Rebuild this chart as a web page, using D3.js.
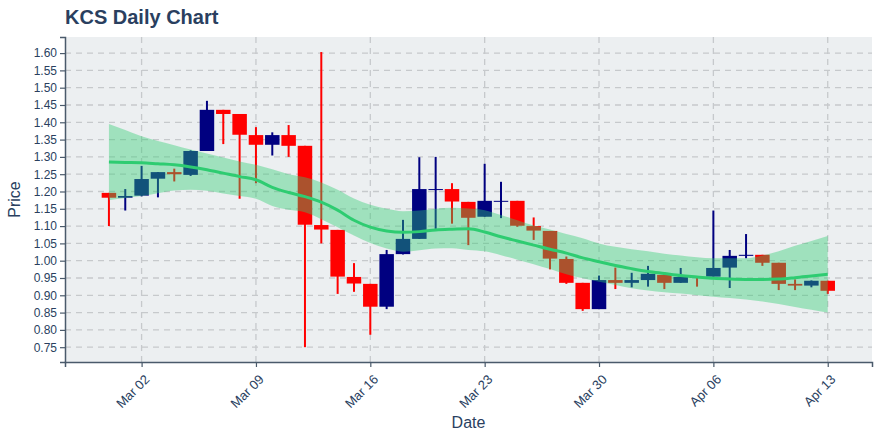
<!DOCTYPE html>
<html>
<head>
<meta charset="utf-8">
<script src="https://cdn.jsdelivr.net/npm/d3@7"></script>
<style>
  body { margin: 0; background: #ffffff; }
  svg { display: block; font-family: "Liberation Sans", Arial, Helvetica, sans-serif; }
</style>
</head>
<body>
<svg id="chart" width="880" height="440"></svg>
<script>
// ---- data ----
const dates = ["2020-02-29","2020-03-01","2020-03-02","2020-03-03","2020-03-04","2020-03-05","2020-03-06","2020-03-07","2020-03-08","2020-03-09","2020-03-10","2020-03-11","2020-03-12","2020-03-13","2020-03-14","2020-03-15","2020-03-16","2020-03-17","2020-03-18","2020-03-19","2020-03-20","2020-03-21","2020-03-22","2020-03-23","2020-03-24","2020-03-25","2020-03-26","2020-03-27","2020-03-28","2020-03-29","2020-03-30","2020-03-31","2020-04-01","2020-04-02","2020-04-03","2020-04-04","2020-04-05","2020-04-06","2020-04-07","2020-04-08","2020-04-09","2020-04-10","2020-04-11","2020-04-12","2020-04-13"];
const open  = [1.196,1.182,1.188,1.237,1.256,1.248,1.317,1.436,1.424,1.363,1.335,1.363,1.332,1.103,1.089,0.953,0.933,0.867,1.019,1.063,1.205,1.207,1.170,1.127,1.171,1.173,1.100,1.086,1.005,0.936,0.860,0.944,0.936,0.944,0.959,0.936,0.953,0.954,0.980,1.014,1.017,0.994,0.933,0.928,0.942];
const high  = [1.196,1.207,1.274,1.256,1.266,1.319,1.462,1.436,1.424,1.386,1.371,1.392,1.332,1.603,1.089,0.993,0.933,1.031,1.118,1.299,1.300,1.224,1.170,1.280,1.228,1.173,1.125,1.086,1.012,0.936,0.957,0.980,0.965,0.985,0.967,0.979,0.953,1.145,1.031,1.077,1.017,0.994,0.946,0.943,0.942];
const low   = [1.100,1.145,1.186,1.183,1.229,1.245,1.317,1.337,1.179,1.224,1.304,1.300,0.750,1.050,0.904,0.910,0.786,0.860,1.018,1.063,1.092,1.107,1.045,1.127,1.123,1.098,1.060,0.975,0.933,0.855,0.860,0.918,0.923,0.925,0.918,0.936,0.925,0.954,0.921,1.007,0.985,0.915,0.915,0.923,0.904];
const close = [1.182,1.187,1.236,1.256,1.250,1.317,1.436,1.424,1.364,1.335,1.363,1.332,1.104,1.090,0.954,0.934,0.867,1.019,1.063,1.207,1.207,1.171,1.124,1.173,1.173,1.101,1.087,1.006,0.936,0.860,0.944,0.936,0.944,0.962,0.936,0.953,0.951,0.979,1.014,1.017,0.994,0.933,0.928,0.942,0.913];
const trend = [1.285,1.284,1.283,1.280,1.277,1.271,1.263,1.253,1.243,1.234,1.212,1.197,1.185,1.169,1.146,1.117,1.097,1.086,1.082,1.084,1.089,1.091,1.092,1.083,1.069,1.057,1.045,1.033,1.022,1.008,0.997,0.986,0.977,0.969,0.963,0.957,0.953,0.949,0.947,0.946,0.946,0.947,0.951,0.956,0.961];
const upper = [1.395,1.378,1.360,1.346,1.334,1.321,1.310,1.298,1.287,1.277,1.264,1.250,1.241,1.226,1.205,1.180,1.162,1.150,1.143,1.145,1.150,1.153,1.151,1.146,1.132,1.117,1.102,1.090,1.077,1.065,1.050,1.040,1.033,1.027,1.020,1.015,1.010,1.007,1.007,1.007,1.015,1.027,1.043,1.057,1.071];
const lower = [1.175,1.181,1.187,1.195,1.203,1.205,1.202,1.194,1.187,1.179,1.158,1.147,1.140,1.120,1.097,1.073,1.051,1.035,1.026,1.030,1.035,1.036,1.031,1.027,1.016,1.003,0.990,0.976,0.961,0.949,0.939,0.930,0.920,0.914,0.909,0.905,0.900,0.896,0.892,0.888,0.882,0.875,0.866,0.858,0.850];
const yTicks = [0.75,0.80,0.85,0.90,0.95,1.00,1.05,1.10,1.15,1.20,1.25,1.30,1.35,1.40,1.45,1.50,1.55,1.60];
const xTicks = ["2020-03-02","2020-03-09","2020-03-16","2020-03-23","2020-03-30","2020-04-06","2020-04-13"];
const titleText = "KCS Daily Chart";
const xTitle = "Date";
const yTitle = "Price";

// ---- layout ----
const W = 880, H = 440;
const m = {left: 65, right: 8, top: 37, bottom: 78};
const pw = W - m.left - m.right, ph = H - m.top - m.bottom;
const textColor = "#2a3f5f";

const parse = d3.utcParse("%Y-%m-%d");
const data = dates.map((d, i) => ({
  date: parse(d), o: open[i], h: high[i], l: low[i], c: close[i],
  t: trend[i], u: upper[i], lo: lower[i]
}));

const DAY = 864e5;
const x = d3.scaleUtc()
  .domain([new Date(parse("2020-03-02").getTime() - 4.689 * DAY), new Date(parse("2020-03-02").getTime() + 44.71 * DAY)])
  .range([m.left, m.left + pw]);
const y = d3.scaleLinear().domain([0.7072, 1.6465]).range([m.top + ph, m.top]);

const svg = d3.select("#chart");

// plot background
svg.append("rect").attr("x", m.left).attr("y", m.top).attr("width", pw).attr("height", ph).attr("fill", "#eceff1");

// grid
const grid = svg.append("g");
grid.selectAll("line.gy").data(yTicks).join("line")
  .attr("x1", m.left).attr("x2", m.left + pw)
  .attr("y1", d => y(d)).attr("y2", d => y(d))
  .attr("stroke", "#c6c9cc").attr("stroke-width", 1.3).attr("stroke-dasharray", "6,5");
grid.selectAll("line.gx").data(xTicks.map(parse)).join("line")
  .attr("x1", d => x(d)).attr("x2", d => x(d))
  .attr("y1", m.top).attr("y2", m.top + ph)
  .attr("stroke", "#c6c9cc").attr("stroke-width", 1.3).attr("stroke-dasharray", "6,5");

// candles
const bw = 14.5;
const up = "#000080", down = "#ff0000";
const candles = svg.append("g");
candles.selectAll("line").data(data).join("line")
  .attr("x1", d => x(d.date)).attr("x2", d => x(d.date))
  .attr("y1", d => y(d.h)).attr("y2", d => y(d.l))
  .attr("stroke", d => d.c >= d.o ? up : down).attr("stroke-width", 2);
candles.selectAll("rect").data(data).join("rect")
  .attr("x", d => x(d.date) - bw / 2).attr("width", bw)
  .attr("y", d => y(Math.max(d.o, d.c)))
  .attr("height", d => Math.max(1, Math.abs(y(d.o) - y(d.c))))
  .attr("fill", d => d.c >= d.o ? up : down);

// band
const area = d3.area().x(d => x(d.date)).y0(d => y(d.lo)).y1(d => y(d.u)).curve(d3.curveMonotoneX);
svg.append("path").datum(data).attr("d", area).attr("fill", "rgba(46,204,113,0.4)");

// trend line
const line = d3.line().x(d => x(d.date)).y(d => y(d.t)).curve(d3.curveMonotoneX);
svg.append("path").datum(data).attr("d", line).attr("fill", "none").attr("stroke", "#2ecc71").attr("stroke-width", 3);

// axes
const yAxis = svg.append("g").attr("transform", `translate(${m.left},0)`)
  .call(d3.axisLeft(y).tickValues(yTicks).tickFormat(d3.format(".2f")).tickSize(5).tickPadding(3));
const xAxis = svg.append("g").attr("transform", `translate(0,${m.top + ph})`)
  .call(d3.axisBottom(x).tickValues(xTicks.map(parse)).tickFormat(d3.utcFormat("%b %d")).tickSize(5).tickPadding(3));
[yAxis, xAxis].forEach(a => {
  a.select(".domain").attr("stroke", "#4a5a6b").attr("stroke-width", 1.5);
  a.selectAll(".tick line").attr("stroke", "#4a5a6b").attr("stroke-width", 1.2);
  a.selectAll(".tick text").attr("fill", textColor).style("font-size", "12px");
});
xAxis.selectAll(".tick text")
  .style("font-size", "13px")
  .attr("text-anchor", "end")
  .attr("x", 0).attr("y", 0).attr("dy", "0.35em")
  .attr("transform", "translate(5,15) rotate(-45)");

// titles
svg.append("text").attr("x", m.left).attr("y", 24).text(titleText)
  .attr("fill", textColor).style("font-size", "20px").style("font-weight", "bold");
svg.append("text").attr("x", m.left + pw / 2).attr("y", 428).attr("text-anchor", "middle").text(xTitle)
  .attr("fill", textColor).style("font-size", "16px");
svg.append("text").attr("transform", `translate(20,${m.top + ph / 2}) rotate(-90)`).attr("text-anchor", "middle").text(yTitle)
  .attr("fill", textColor).style("font-size", "16px");
</script>
</body>
</html>
